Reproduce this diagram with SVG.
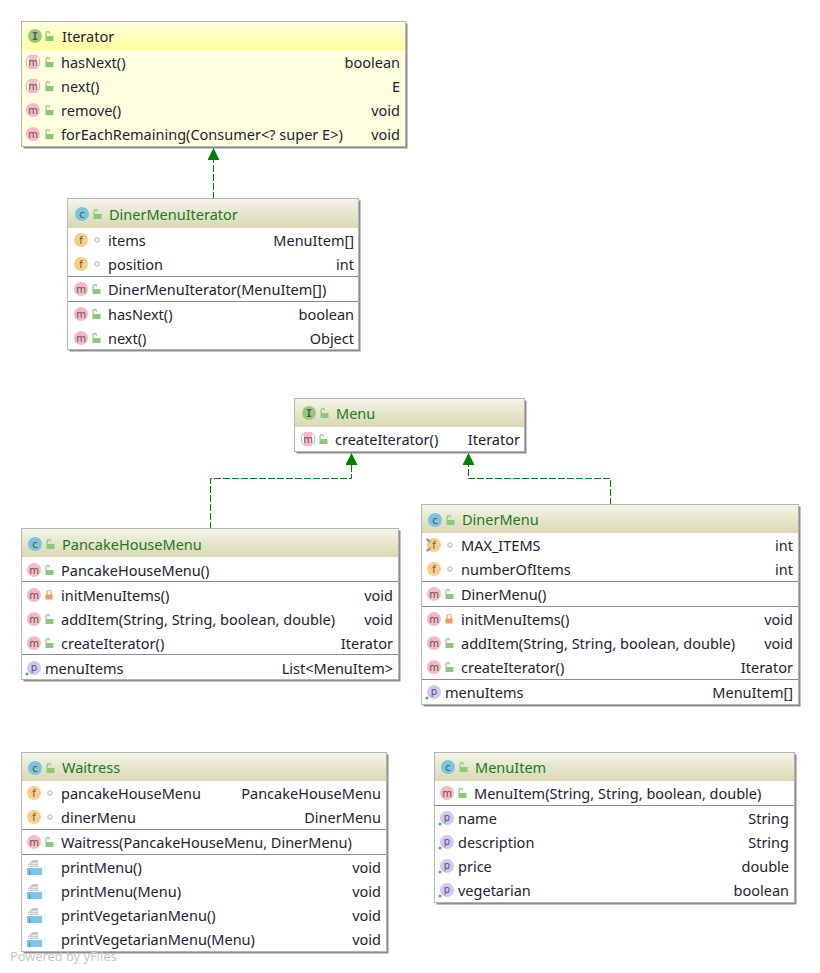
<svg xmlns="http://www.w3.org/2000/svg" width="820" height="973" viewBox="0 0 820 973">
<style>
text{font-family:"Noto Sans","DejaVu Sans",sans-serif;font-size:14.500px;fill:#1a2433}
.t{fill:#1a7a1a}
.r{text-anchor:end}
.box{fill:#fff;stroke:#b4b4b4;stroke-width:1}
.sh{fill:#8c8c8c}
.sep{stroke:#8c8c8c;stroke-width:1}
.hd{fill:url(#hg)}
.hy{fill:url(#hy)}
.l{font-size:10px;text-anchor:middle;fill:#555;font-family:"DejaVu Sans",sans-serif}
.lm{font-family:"DejaVu Sans Mono",monospace;font-weight:bold}
.wm{font-size:12.800px;fill:#c8c8c8}
.conn{fill:none;stroke:#008000;stroke-width:1;stroke-dasharray:7 2}
</style>
<defs>
<linearGradient id="hg" x1="0" y1="0" x2="0" y2="1"><stop offset="0" stop-color="#f4f4e8"/><stop offset="1" stop-color="#d8d8b4"/></linearGradient>
<linearGradient id="hy" x1="0" y1="0" x2="0" y2="1"><stop offset="0" stop-color="#ffffe0"/><stop offset="1" stop-color="#ffff9c"/></linearGradient>
<marker id="arr" markerUnits="userSpaceOnUse" markerWidth="14" markerHeight="14" refX="12" refY="6" orient="auto"><path d="M12 6L0 0V12Z" fill="#008000"/></marker>
<g id="open"><path d="M-3.500 0h8v5h-8z" fill="#8cc878"/><path d="M-3 0v-2.500a1.800 1.800 0 0 1 3.600 0" fill="none" stroke="#8cc878" stroke-width="1.200"/></g>
<g id="lock"><path d="M-3.500 -0.500h7v5h-7z" fill="#f09868"/><path d="M-2 -0.500v-2a2 2 0 0 1 4 0v2" fill="none" stroke="#f09868" stroke-width="1.200"/></g>
<g id="dot"><circle r="2.200" fill="#fff" stroke="#a8b0b8" stroke-width="1"/></g>
<g id="m"><circle r="7" fill="#fbb8c4"/><text class="l" y="3.500">m</text></g>
<g id="ma"><path d="M-4 -7h8v14h-8z" fill="#fbb8c4"/><path d="M-4.500 -6a9 9 0 0 0 0 12M4.500 -6a9 9 0 0 1 0 12" fill="none" stroke="#b8b8b8"/><text class="l" y="3.500">m</text></g>
<g id="f"><circle r="7" fill="#fbcd88"/><text class="l" y="3.500">f</text></g>
<g id="c"><circle r="7" fill="#7cc4dc"/><text class="l" y="3.500">c</text></g>
<g id="i"><circle r="7" fill="#98c87c"/><text class="l lm" y="3.500">I</text></g>
<g id="p"><circle r="7" fill="#d4c4f8"/><text class="l" y="3">p</text><circle cx="-7" cy="6" r="1.500" fill="#4caf50"/></g>
<g id="j"><path d="M-7 1h15v7h-15z" fill="#7cc8ec"/><path d="M-5.500 -3l4 -4h5.500v7h-9.500z" fill="#c4c8cc"/><path d="M-3 -3.500h7M-5.500 -1.500h9.500" stroke="#fff" stroke-width="0.600"/><text class="l" x="-4" y="7" style="font-size:6px">J</text></g>
</defs>
<g id="connectors">
<path class="conn" d="M213.500 199V148" marker-end="url(#arr)"/>
<path class="conn" d="M210.500 529V478.500H351.500V453" marker-end="url(#arr)"/>
<path class="conn" d="M610.500 505V478.500H468.500V453" marker-end="url(#arr)"/>
</g>
<g id="Iterator">
<rect class="sh" x="23.500" y="23.500" width="384" height="125"/><rect x="21.500" y="21.500" width="384" height="125" fill="#ffffe0" stroke="#b4b4b4"/><rect class="hy" x="22" y="22" width="383" height="28"/>
<use href="#i" x="35" y="36"/><use href="#open" x="49" y="36"/><text x="62" y="42">Iterator</text>
<use href="#ma" x="33" y="62"/><use href="#open" x="49" y="62"/><text x="61" y="68">hasNext()</text><text class="r" x="400" y="68">boolean</text>
<use href="#ma" x="33" y="86"/><use href="#open" x="49" y="86"/><text x="61" y="92">next()</text><text class="r" x="400" y="92">E</text>
<use href="#m" x="33" y="110"/><use href="#open" x="49" y="110"/><text x="61" y="116">remove()</text><text class="r" x="400" y="116">void</text>
<use href="#m" x="33" y="134"/><use href="#open" x="49" y="134"/><text x="61" y="140">forEachRemaining(Consumer&lt;? super E&gt;)</text><text class="r" x="400" y="140">void</text>
</g>
<g id="DinerMenuIterator">
<rect class="sh" x="69.500" y="200.500" width="291" height="151"/><rect class="box" x="67.500" y="198.500" width="291" height="151"/><rect class="hd" x="68" y="199" width="290" height="29"/>
<use href="#c" x="82" y="214"/><use href="#open" x="97" y="214"/><text class="t" x="109" y="220">DinerMenuIterator</text>
<use href="#f" x="81" y="240"/><use href="#dot" x="97" y="240"/><text x="108" y="246">items</text><text class="r" x="354" y="246">MenuItem[]</text>
<use href="#f" x="81" y="264"/><use href="#dot" x="97" y="264"/><text x="108" y="270">position</text><text class="r" x="354" y="270">int</text>
<path class="sep" d="M68 276.500H358"/>
<use href="#m" x="81" y="289"/><use href="#open" x="96" y="289"/><text x="108" y="295">DinerMenuIterator(MenuItem[])</text>
<path class="sep" d="M68 301.500H358"/>
<use href="#m" x="81" y="314"/><use href="#open" x="96" y="314"/><text x="108" y="320">hasNext()</text><text class="r" x="354" y="320">boolean</text>
<use href="#m" x="81" y="338"/><use href="#open" x="96" y="338"/><text x="108" y="344">next()</text><text class="r" x="354" y="344">Object</text>
</g>
<g id="Menu">
<rect class="sh" x="296.500" y="400.500" width="230" height="53"/><rect class="box" x="294.500" y="398.500" width="230" height="53"/><rect class="hd" x="295" y="399" width="229" height="28"/>
<use href="#i" x="309" y="413"/><use href="#open" x="324" y="413"/><text class="t" x="336" y="419">Menu</text>
<use href="#ma" x="308" y="439"/><use href="#open" x="323" y="439"/><text x="335" y="445">createIterator()</text><text class="r" x="520" y="445">Iterator</text>
</g>
<g id="PancakeHouseMenu">
<rect class="sh" x="23.500" y="530.500" width="377" height="151"/><rect class="box" x="21.500" y="528.500" width="377" height="151"/><rect class="hd" x="22" y="529" width="376" height="28"/>
<use href="#c" x="35" y="544"/><use href="#open" x="50" y="544"/><text class="t" x="62" y="550">PancakeHouseMenu</text>
<use href="#m" x="34" y="570"/><use href="#open" x="49" y="570"/><text x="61" y="576">PancakeHouseMenu()</text>
<path class="sep" d="M22 581.500H398"/>
<use href="#m" x="34" y="595"/><use href="#lock" x="49" y="595"/><text x="61" y="601">initMenuItems()</text><text class="r" x="393" y="601">void</text>
<use href="#m" x="34" y="619"/><use href="#open" x="49" y="619"/><text x="61" y="625">addItem(String, String, boolean, double)</text><text class="r" x="393" y="625">void</text>
<use href="#m" x="34" y="643"/><use href="#open" x="49" y="643"/><text x="61" y="649">createIterator()</text><text class="r" x="393" y="649">Iterator</text>
<path class="sep" d="M22 654.500H398"/>
<use href="#p" x="34" y="668"/><text x="45" y="674">menuItems</text><text class="r" x="393" y="674">List&lt;MenuItem&gt;</text>
</g>
<g id="DinerMenu">
<rect class="sh" x="423.500" y="506.500" width="377" height="200"/><rect class="box" x="421.500" y="504.500" width="377" height="200"/><rect class="hd" x="422" y="505" width="376" height="28"/>
<use href="#c" x="435" y="520"/><use href="#open" x="450" y="520"/><text class="t" x="462" y="525">DinerMenu</text>
<use href="#f" x="434" y="545"/><use href="#dot" x="450" y="545"/><text x="461" y="551">MAX_ITEMS</text><text class="r" x="793" y="551">int</text>
<path d="M427 538l4 3l-1 2l-4 -3zM427 552l4 -3l-1 -2l-4 3z" fill="#8a98a8"/>
<use href="#f" x="434" y="569"/><use href="#dot" x="450" y="569"/><text x="461" y="575">numberOfItems</text><text class="r" x="793" y="575">int</text>
<path class="sep" d="M422 581.500H798"/>
<use href="#m" x="434" y="594"/><use href="#open" x="449" y="594"/><text x="461" y="600">DinerMenu()</text>
<path class="sep" d="M422 606.500H798"/>
<use href="#m" x="434" y="619"/><use href="#lock" x="449" y="619"/><text x="461" y="625">initMenuItems()</text><text class="r" x="793" y="625">void</text>
<use href="#m" x="434" y="643"/><use href="#open" x="449" y="643"/><text x="461" y="649">addItem(String, String, boolean, double)</text><text class="r" x="793" y="649">void</text>
<use href="#m" x="434" y="667"/><use href="#open" x="449" y="667"/><text x="461" y="673">createIterator()</text><text class="r" x="793" y="673">Iterator</text>
<path class="sep" d="M422 679.500H798"/>
<use href="#p" x="434" y="692"/><text x="445" y="698">menuItems</text><text class="r" x="793" y="698">MenuItem[]</text>
</g>
<g id="Waitress">
<rect class="sh" x="23.500" y="754.500" width="365" height="199"/><rect class="box" x="21.500" y="752.500" width="365" height="199"/><rect class="hd" x="22" y="753" width="364" height="28"/>
<use href="#c" x="35" y="768"/><use href="#open" x="50" y="768"/><text class="t" x="62" y="773">Waitress</text>
<use href="#f" x="34" y="793"/><use href="#dot" x="50" y="793"/><text x="61" y="799">pancakeHouseMenu</text><text class="r" x="381" y="799">PancakeHouseMenu</text>
<use href="#f" x="34" y="817"/><use href="#dot" x="50" y="817"/><text x="61" y="823">dinerMenu</text><text class="r" x="381" y="823">DinerMenu</text>
<path class="sep" d="M22 829.500H386"/>
<use href="#m" x="34" y="842"/><use href="#open" x="49" y="842"/><text x="61" y="848">Waitress(PancakeHouseMenu, DinerMenu)</text>
<path class="sep" d="M22 854.500H386"/>
<use href="#j" x="34" y="867"/><text x="61" y="873">printMenu()</text><text class="r" x="381" y="873">void</text>
<use href="#j" x="34" y="891"/><text x="61" y="897">printMenu(Menu)</text><text class="r" x="381" y="897">void</text>
<use href="#j" x="34" y="915"/><text x="61" y="921">printVegetarianMenu()</text><text class="r" x="381" y="921">void</text>
<use href="#j" x="34" y="939"/><text x="61" y="945">printVegetarianMenu(Menu)</text><text class="r" x="381" y="945">void</text>
</g>
<g id="MenuItem">
<rect class="sh" x="436.500" y="754.500" width="360" height="150"/><rect class="box" x="434.500" y="752.500" width="360" height="150"/><rect class="hd" x="435" y="753" width="359" height="28"/>
<use href="#c" x="448" y="767"/><use href="#open" x="463" y="767"/><text class="t" x="475" y="773">MenuItem</text>
<use href="#m" x="447" y="793"/><use href="#open" x="462" y="793"/><text x="474" y="799">MenuItem(String, String, boolean, double)</text>
<path class="sep" d="M435 805.500H794"/>
<use href="#p" x="447" y="818"/><text x="458" y="824">name</text><text class="r" x="789" y="824">String</text>
<use href="#p" x="447" y="842"/><text x="458" y="848">description</text><text class="r" x="789" y="848">String</text>
<use href="#p" x="447" y="866"/><text x="458" y="872">price</text><text class="r" x="789" y="872">double</text>
<use href="#p" x="447" y="890"/><text x="458" y="896">vegetarian</text><text class="r" x="789" y="896">boolean</text>
</g>
<text class="wm" x="10" y="961">Powered by yFiles</text>
</svg>
